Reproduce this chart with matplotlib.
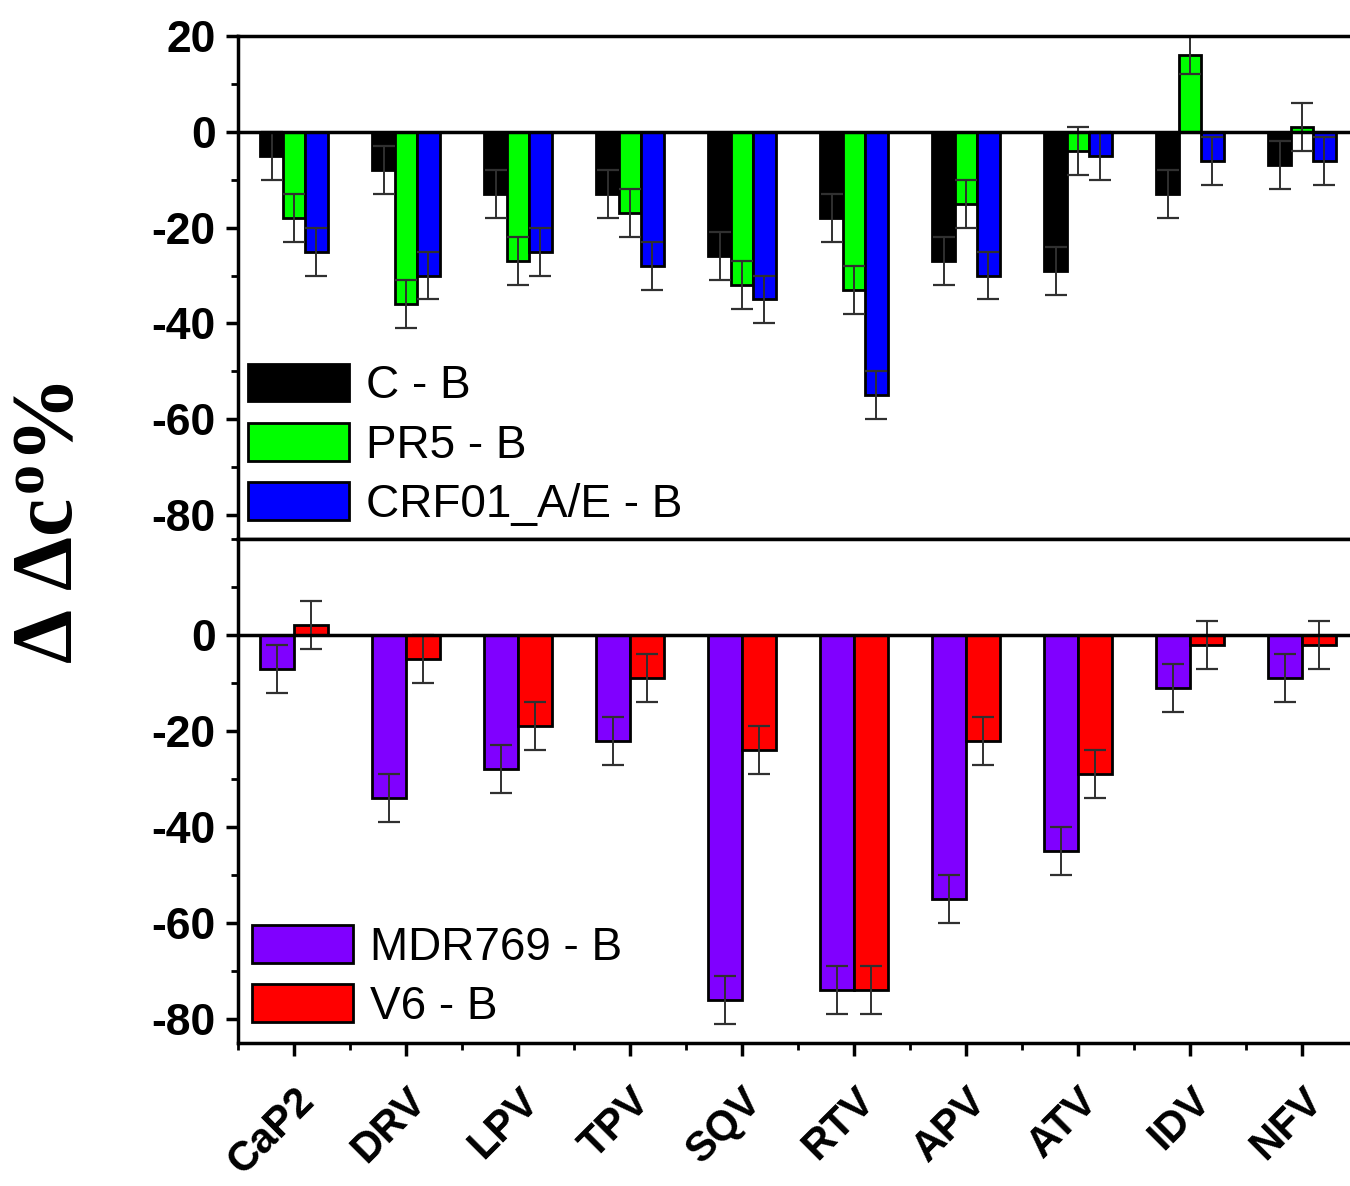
import matplotlib
matplotlib.use("Agg")
import matplotlib.pyplot as plt
import numpy as np
from matplotlib.ticker import MultipleLocator, FixedLocator

categories = ["CaP2", "DRV", "LPV", "TPV", "SQV", "RTV", "APV", "ATV", "IDV", "NFV"]

c_b = [-5, -8, -13, -13, -26, -18, -27, -29, -13, -7]
pr5_b = [-18, -36, -27, -17, -32, -33, -15, -4, 16, 1]
crf_b = [-25, -30, -25, -28, -35, -55, -30, -5, -6, -6]
c_b_err = [5, 5, 5, 5, 5, 5, 5, 5, 5, 5]
pr5_b_err = [5, 5, 5, 5, 5, 5, 5, 5, 4, 5]
crf_b_err = [5, 5, 5, 5, 5, 5, 5, 5, 5, 5]

mdr_b = [-7, -34, -28, -22, -76, -74, -55, -45, -11, -9]
v6_b = [2, -5, -19, -9, -24, -74, -22, -29, -2, -2]
mdr_b_err = [5, 5, 5, 5, 5, 5, 5, 5, 5, 5]
v6_b_err = [5, 5, 5, 5, 5, 5, 5, 5, 5, 5]

top_labels = ["C - B", "PR5 - B", "CRF01_A/E - B"]
bottom_labels = ["MDR769 - B", "V6 - B"]
top_colors = ["#000000", "#00ff00", "#0000ff"]
bottom_colors = ["#8000ff", "#ff0000"]

plt.rcParams['mathtext.fontset'] = 'custom'
plt.rcParams['mathtext.rm'] = 'Liberation Serif:bold'
plt.rcParams['mathtext.it'] = 'Liberation Serif:bold'
plt.rcParams['mathtext.bf'] = 'Liberation Serif:bold'

fig = plt.figure(figsize=(13.5, 11.86), dpi=100)
W, H = 1350, 1186
left = 238 / W
ax1 = fig.add_axes([left, 1 - 539 / H, 1 - left, (539 - 36) / H])
ax2 = fig.add_axes([left, 1 - 1043 / H, 1 - left, (1043 - 539) / H])

x = np.arange(1, len(categories) + 1)

err_kw = dict(ecolor="#303030", elinewidth=1.4, capsize=8, capthick=1.6)

tw = 0.2
for i, (vals, errs, col, lab) in enumerate(zip([c_b, pr5_b, crf_b], [c_b_err, pr5_b_err, crf_b_err], top_colors, top_labels)):
    ax1.bar(x + (i - 1) * tw, vals, tw, color=col, edgecolor="black", linewidth=2, label=lab,
            yerr=errs, error_kw=err_kw, zorder=2)

bw = 0.3
for i, (vals, errs, col, lab) in enumerate(zip([mdr_b, v6_b], [mdr_b_err, v6_b_err], bottom_colors, bottom_labels)):
    ax2.bar(x + (i - 0.5) * bw, vals, bw, color=col, edgecolor="black", linewidth=2, label=lab,
            yerr=errs, error_kw=err_kw, zorder=2)

for ax in (ax1, ax2):
    ax.set_xlim(0.5, 0.5 + 1112 / 112)
    ax.set_ylim(-85, 20)
    ax.axhline(0, color="black", lw=2.5, zorder=3)
    for s in ["left", "top", "bottom"]:
        ax.spines[s].set_linewidth(2.5)
    ax.spines["right"].set_visible(False)
    ax.xaxis.set_major_locator(FixedLocator(x))
    ax.xaxis.set_minor_locator(FixedLocator(np.arange(0.5, 11, 1.0)))
    ax.yaxis.set_minor_locator(MultipleLocator(10))
    ax.tick_params(axis="both", which="major", direction="out", length=9, width=2.5, pad=7)
    ax.tick_params(axis="both", which="minor", direction="out", length=5, width=2)
    ax.tick_params(axis="x", which="both", top=False)

ylab_kw = dict(fontfamily="Liberation Sans", fontweight="bold", fontsize=32)
ax1.set_yticks([-80, -60, -40, -20, 0, 20])
ax1.set_yticklabels(["-80", "-60", "-40", "-20", "0", "20"], **ylab_kw)
ax1.tick_params(axis="x", labelbottom=False)
ax2.set_yticks([-80, -60, -40, -20, 0])
ax2.set_yticklabels(["-80", "-60", "-40", "-20", "0"], **ylab_kw)
ax2.set_xticks(x)
ax2.set_xticklabels(categories, rotation=45, ha="right", rotation_mode="anchor",
                    fontfamily="Liberation Sans", fontweight="bold", fontsize=30)
ax2.tick_params(axis="x", which="major", pad=18)

leg_kw = dict(loc="lower left", frameon=False,
              prop=dict(family="Liberation Sans", size=33), handlelength=2.2,
              handleheight=0.88, handletextpad=0.38, labelspacing=0.32, borderaxespad=0.0,
              borderpad=0.0)
leg1 = ax1.legend(bbox_to_anchor=(0.009, 0.024), **leg_kw)
leg2 = ax2.legend(bbox_to_anchor=(0.0125, 0.028), **leg_kw)

fig.text(49 / W, 1 - 523 / H, r"$\Delta\;\Delta c^{o}\%$", rotation=90, ha="center", va="center",
         fontsize=62)

fig.savefig("out.png", dpi=100)
